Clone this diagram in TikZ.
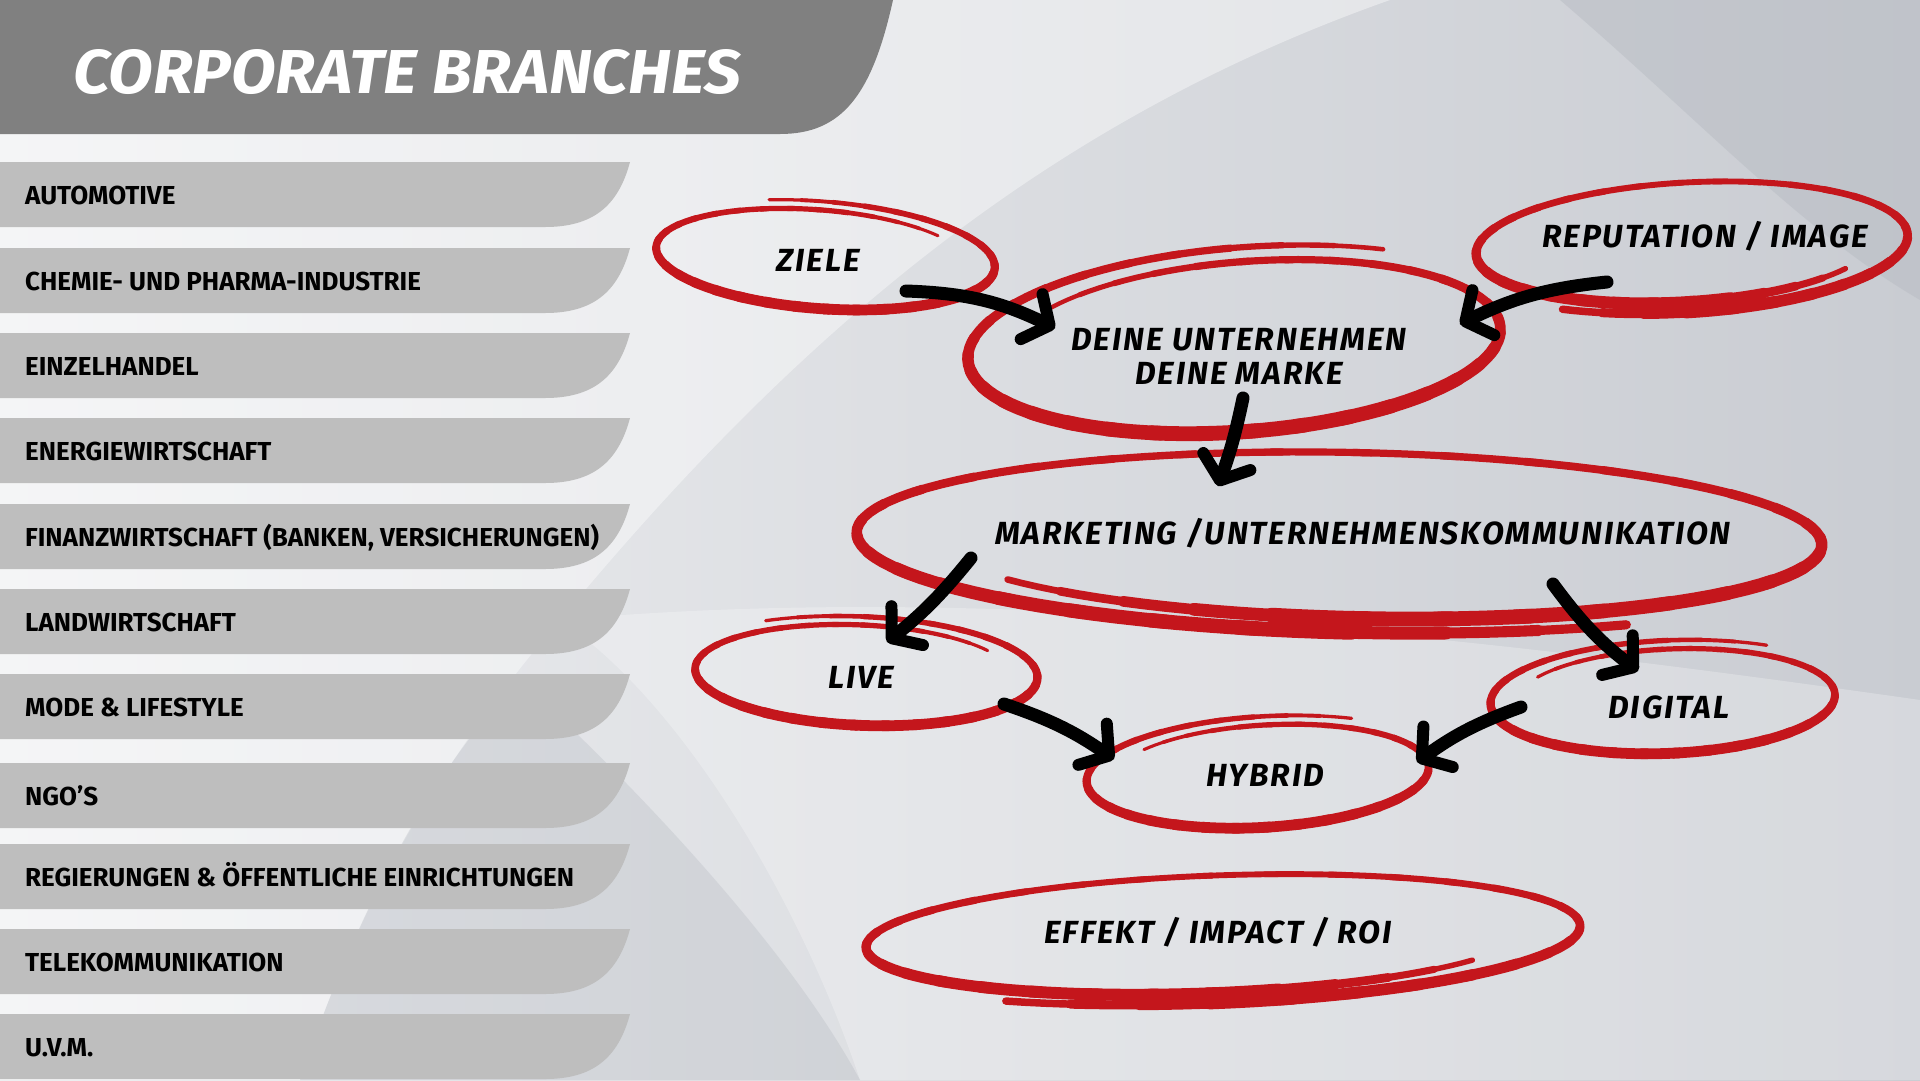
\documentclass[tikz,border=0pt]{standalone}
\usepackage{fontspec}
\setmainfont{Fira Sans}
\newfontfamily\titlefont[FakeStretch=1.05]{Fira Sans}
\newfontfamily\barfont[FakeStretch=1.0]{Fira Sans}
\newfontfamily\handfont[FakeStretch=1.0, LetterSpace=6]{Fira Sans}
\usetikzlibrary{shapes.geometric,arrows.meta,calc}

\definecolor{bannergray}{HTML}{808080}
\definecolor{bargray}{HTML}{BEBEBE}
\definecolor{brushred}{HTML}{C4161C}
\definecolor{bgleft}{HTML}{EEEFF1}
\definecolor{bgright}{HTML}{C9CCD2}
\definecolor{bgdark}{HTML}{B8BCC3}

\tikzset{
  bubble/.style={ellipse, inner sep=0pt, outer sep=0pt},
  hand/.style={font=\handfont\bfseries\itshape\fontsize{32}{34}\selectfont, align=center, inner sep=0pt},
  branch/.style={anchor=base west, font=\barfont\bfseries\fontsize{26}{26}\selectfont, inner sep=0pt},
  brush/.style={draw=brushred, line cap=round, line join=round},
  marker/.style={draw=black, line width=13pt, line cap=round,
    -{Straight Barb[length=20pt, width=50pt, line width=12pt, round]}},
}

\newcommand\brushloop[7]{%
  \begin{scope}[shift={(#1)}, rotate=#4]
    \foreach \k in {0,...,41}
    {
      \pgfmathsetmacro\ta{#5+#6/42*\k}
      \pgfmathsetmacro\tb{#5+#6/42*(\k+1.2)}
      \pgfmathsetmacro\w{#7*(1+0.35*sin(\ta))*min(1,(\k+4)/8,(46-\k)/8)}
      \draw[brush, line width=\w pt] plot[domain=\ta:\tb, samples=5, variable=\t]
        ({#2*(0.9+0.18*(\t-(#5))/(#6))*cos(\t)}, {#3*(0.9+0.2*(\t-(#5))/(#6))*sin(\t)});
    }
  \end{scope}}

\begin{document}
\begin{tikzpicture}[x=1pt, y=-1pt]
  \useasboundingbox (0,0) rectangle (1920,1080);
  \fill[left color=bgleft, right color=bgright] (0,0) rectangle (1920,1080);
  \fill[white, opacity=0.4] (0,0) -- (1390,0) .. controls (1050,120) and (800,330) .. (560,620) .. controls (440,760) and (360,900) .. (300,1080) -- (0,1080) -- cycle;
  \fill[bgdark, opacity=0.5] (1560,0) .. controls (1700,120) and (1800,230) .. (1920,300) -- (1920,0) -- cycle;
  \fill[white, opacity=0.25] (560,620) .. controls (1000,580) and (1500,640) .. (1920,700) -- (1920,1080) -- (860,1080) .. controls (800,900) and (680,700) .. (560,620) -- cycle;
  \fill[bgdark, opacity=0.35] (520,680) .. controls (640,790) and (790,950) .. (860,1080) -- (300,1080) .. controls (360,900) and (440,760) .. (520,680) -- cycle;

  \fill[bannergray] (0,0) -- (893,0) .. controls (872,95) and (842,134) .. (780,134) -- (0,134) -- cycle;
  \node[anchor=base west, inner sep=0pt, text=white, font=\titlefont\bfseries\itshape\fontsize{62}{62}\selectfont] (title) at (73,93) {CORPORATE BRANCHES};

  \foreach \ytop/\txt [count=\i] in {162/AUTOMOTIVE, 248/{CHEMIE- UND PHARMA-INDUSTRIE}, 333/EINZELHANDEL, 418/ENERGIEWIRTSCHAFT, 504/{FINANZWIRTSCHAFT (BANKEN, VERSICHERUNGEN)}, 589/LANDWIRTSCHAFT, 674/{MODE \& LIFESTYLE}, 763/NGO’S, 844/{REGIERUNGEN \& ÖFFENTLICHE EINRICHTUNGEN}, 929/TELEKOMMUNIKATION, 1014/U.V.M.}
  {
    \fill[bargray] (0,\ytop) -- (630,\ytop) .. controls (618,\ytop+45) and (592,\ytop+65) .. (545,\ytop+65) -- (0,\ytop+65) -- cycle;
    \node[branch] (branch\i) at (25,\ytop+42) {\txt};
  }

  \node[bubble, minimum width=340pt, minimum height=102pt] (ziele) at (819,257) {};
  \node[bubble, minimum width=536pt, minimum height=176pt] (deine) at (1244,343) {};
  \node[bubble, minimum width=434pt, minimum height=124pt] (reput) at (1684,245) {};
  \node[bubble, minimum width=970pt, minimum height=172pt] (marketing) at (1357,539) {};
  \node[bubble, minimum width=344pt, minimum height=104pt] (live) at (860,673) {};
  \node[bubble, minimum width=346pt, minimum height=108pt] (digital) at (1669,699) {};
  \node[bubble, minimum width=344pt, minimum height=106pt] (hybrid) at (1264,774) {};
  \node[bubble, minimum width=718pt, minimum height=122pt] (effekt) at (1210,937) {};

  \brushloop{ziele}{170}{51}{-4}{320}{-425}{8}
  \brushloop{deine}{268}{88}{4}{218}{440}{11}
  \brushloop{reput}{217}{62}{3}{35}{445}{9}
  \brushloop{marketing}{485}{86}{-1}{143}{-442}{11}
  \brushloop{live}{172}{52}{-2}{325}{-444}{8}
  \brushloop{digital}{173}{54}{2}{213}{447}{8}
  \brushloop{hybrid}{172}{53}{3}{220}{437}{8}
  \brushloop{effekt}{359}{61}{2}{36}{444}{9}

  \node[hand] (ziele-t) at (818,260) {ZIELE};
  \node[hand] (deine-t) at (1239,356) {DEINE UNTERNEHMEN\\DEINE MARKE};
  \node[hand] (reput-t) at (1705,236) {REPUTATION / IMAGE};
  \node[hand] (marketing-t) at (1363,533) {MARKETING /UNTERNEHMENSKOMMUNIKATION};
  \node[hand] (live-t) at (861,677) {LIVE};
  \node[hand] (digital-t) at (1669,707) {DIGITAL};
  \node[hand] (hybrid-t) at (1265,775) {HYBRID};
  \node[hand] (effekt-t) at (1218,932) {EFFEKT / IMPACT / ROI};

  \draw[marker] ($(ziele)+(87,34)$) to[bend left=12] ($(deine)+(-189,-15)$);
  \draw[marker] ($(reput)+(-77,37)$) to[bend right=10] ($(deine)+(216,-19)$);
  \draw[marker] ($(deine)+(-1,55)$) to[bend left=4] ($(marketing)+(-139,-53)$);
  \draw[marker] ($(marketing)+(-386,19)$) to[bend left=6] ($(live)+(27,-31)$);
  \draw[marker] ($(marketing)+(196,45)$) to[bend right=8] ($(digital)+(-31,-28)$);
  \draw[marker] ($(live)+(144,31)$) to[bend left=8] ($(hybrid)+(-150,-15)$);
  \draw[marker] ($(digital)+(-148,8)$) to[bend right=8] ($(hybrid)+(153,-12)$);
\end{tikzpicture}
\end{document}
